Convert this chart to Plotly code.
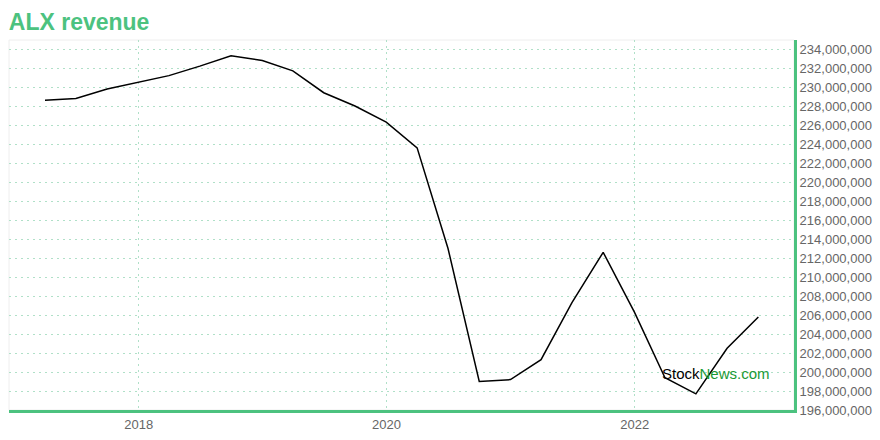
import plotly.graph_objects as go

dates = ["2017-03-31", "2017-06-30", "2017-09-30", "2017-12-31",
         "2018-03-31", "2018-06-30", "2018-09-30", "2018-12-31",
         "2019-03-31", "2019-06-30", "2019-09-30", "2019-12-31",
         "2020-03-31", "2020-06-30", "2020-09-30", "2020-12-31",
         "2021-03-31", "2021-06-30", "2021-09-30", "2021-12-31",
         "2022-03-31", "2022-06-30", "2022-09-30", "2022-12-31"]
revenue = [228.6e6, 228.8e6, 229.8e6, 230.5e6,
           231.2e6, 232.2e6, 233.3e6, 232.8e6,
           231.7e6, 229.4e6, 228.0e6, 226.3e6,
           223.6e6, 213.0e6, 199.0e6, 199.2e6,
           201.3e6, 207.3e6, 212.6e6, 206.3e6,
           199.4e6, 197.7e6, 202.5e6, 205.8e6]
year_ticks = ["2018-01-01", "2020-01-01", "2022-01-01"]
year_labels = ["2018", "2020", "2022"]

GREEN = "#4cc27f"
GRID = "#b0e0c8"

fig = go.Figure()
fig.add_trace(go.Scatter(x=dates, y=revenue, mode="lines",
                         line=dict(color="black", width=1.5),
                         hoverinfo="x+y", showlegend=False))

fig.update_layout(
    width=880, height=440,
    margin=dict(l=9, r=86, t=40, b=30),
    paper_bgcolor="white", plot_bgcolor="white",
    title=dict(text="<b>ALX revenue</b>", x=0.01, xanchor="left", y=0.95, yanchor="middle",
               font=dict(family="Liberation Sans, Arial", size=23, color=GREEN)),
    font=dict(family="Liberation Sans, Arial", size=13, color="#666666"),
    xaxis=dict(type="date", range=["2016-12-15", "2023-04-15"],
               showgrid=True, gridcolor=GRID, griddash="2px,4px", gridwidth=1,
               tickvals=year_ticks, ticktext=year_labels,
               showline=True, linecolor=GREEN, linewidth=3,
               ticks="", zeroline=False),
    yaxis=dict(side="right", range=[196e6, 234.95e6], dtick=2e6, tick0=196e6,
               tickformat=",", showgrid=True, gridcolor=GRID, griddash="2px,4px", gridwidth=1,
               showline=True, linecolor=GREEN, linewidth=3, ticks="", zeroline=False),
    shapes=[dict(type="rect", xref="paper", yref="paper", x0=0, x1=1, y0=0, y1=1,
                 line=dict(color="#eeeeee", width=1), layer="below")],
    annotations=[dict(xref="paper", yref="paper", x=0.829, y=0.100,
                      xanchor="left", yanchor="middle",
                      text="<span style='color:black'>Stock</span><span style='color:#1a9a35'>News.com</span>",
                      showarrow=False, font=dict(family="Liberation Sans, Arial", size=15))],
)

fig.write_html("out.html", config={"displayModeBar": False},
               post_script="document.body.style.margin='0';")
